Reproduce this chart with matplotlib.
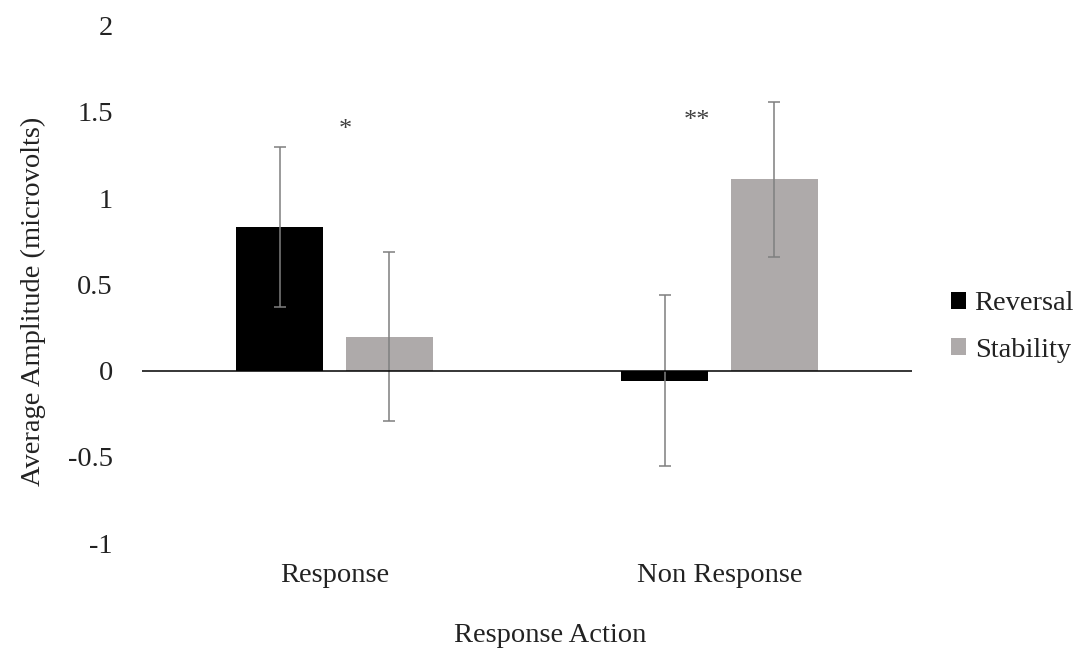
import numpy as np
import matplotlib.pyplot as plt

plt.rcParams['font.family'] = ['Liberation Serif', 'DejaVu Serif']

categories = ['Response', 'Non Response']
reversal = [0.835, -0.058]
reversal_err = [0.464, 0.495]
stability = [0.197, 1.111]
stability_err = [0.49, 0.449]
stars = ['*', '**']
star_x = [0.027, 0.942]
star_y = [1.395, 1.447]

fs = 20.5

fig = plt.figure(figsize=(10.9, 6.53), dpi=100)
ax = fig.add_axes([142/1090, 1 - 543.2/653, 770/1090, (543.2 - 25.7)/653])

x = np.arange(len(categories))
w = 0.225
off = 0.1425
ekw = dict(ecolor='#7f7f7f', elinewidth=1.1, capsize=4.5, capthick=1.1)
ax.bar(x - off, reversal, w, yerr=reversal_err, color='black', label='Reversal',
       error_kw=ekw, zorder=2)
ax.bar(x + off, stability, w, yerr=stability_err, color='#aeaaaa', label='Stability',
       error_kw=ekw, zorder=2)
ax.axhline(0, color='black', lw=1.1, zorder=3)

# significance markers
for s, sx, sy in zip(stars, star_x, star_y):
    ax.text(sx, sy, s, ha='center', va='center', fontsize=19, color='#404040')

ax.set_xlim(-0.5, 1.5)
ax.set_ylim(-1, 2)
ax.set_yticks([-1, -0.5, 0, 0.5, 1, 1.5, 2])
ax.set_yticklabels(['-1', '-0.5', '0', '0.5', '1', '1.5', '2'])
ax.set_xticks(x)
ax.set_xticklabels(categories)
ax.tick_params(axis='both', length=0, labelsize=fs, colors='#222222')
ax.tick_params(axis='y', pad=21)
ax.tick_params(axis='x', pad=14)
for sp in ax.spines.values():
    sp.set_visible(False)

fig.text(33/1090, 1 - 301/653, 'Average Amplitude (microvolts)', rotation=90,
         ha='center', va='center', fontsize=fs, color='#222222')
fig.text(550/1090, 1 - 636/653, 'Response Action', ha='center', va='center',
         fontsize=fs, color='#222222')

leg = fig.legend(loc='center left', bbox_to_anchor=(951/1090, 1 - 327/653), frameon=False,
                 fontsize=fs, handlelength=0.53, handleheight=0.53, handletextpad=0.3,
                 labelspacing=0.75, borderpad=0, borderaxespad=0)
for t in leg.get_texts():
    t.set_color('#222222')

fig.savefig('out.png', dpi=100)
